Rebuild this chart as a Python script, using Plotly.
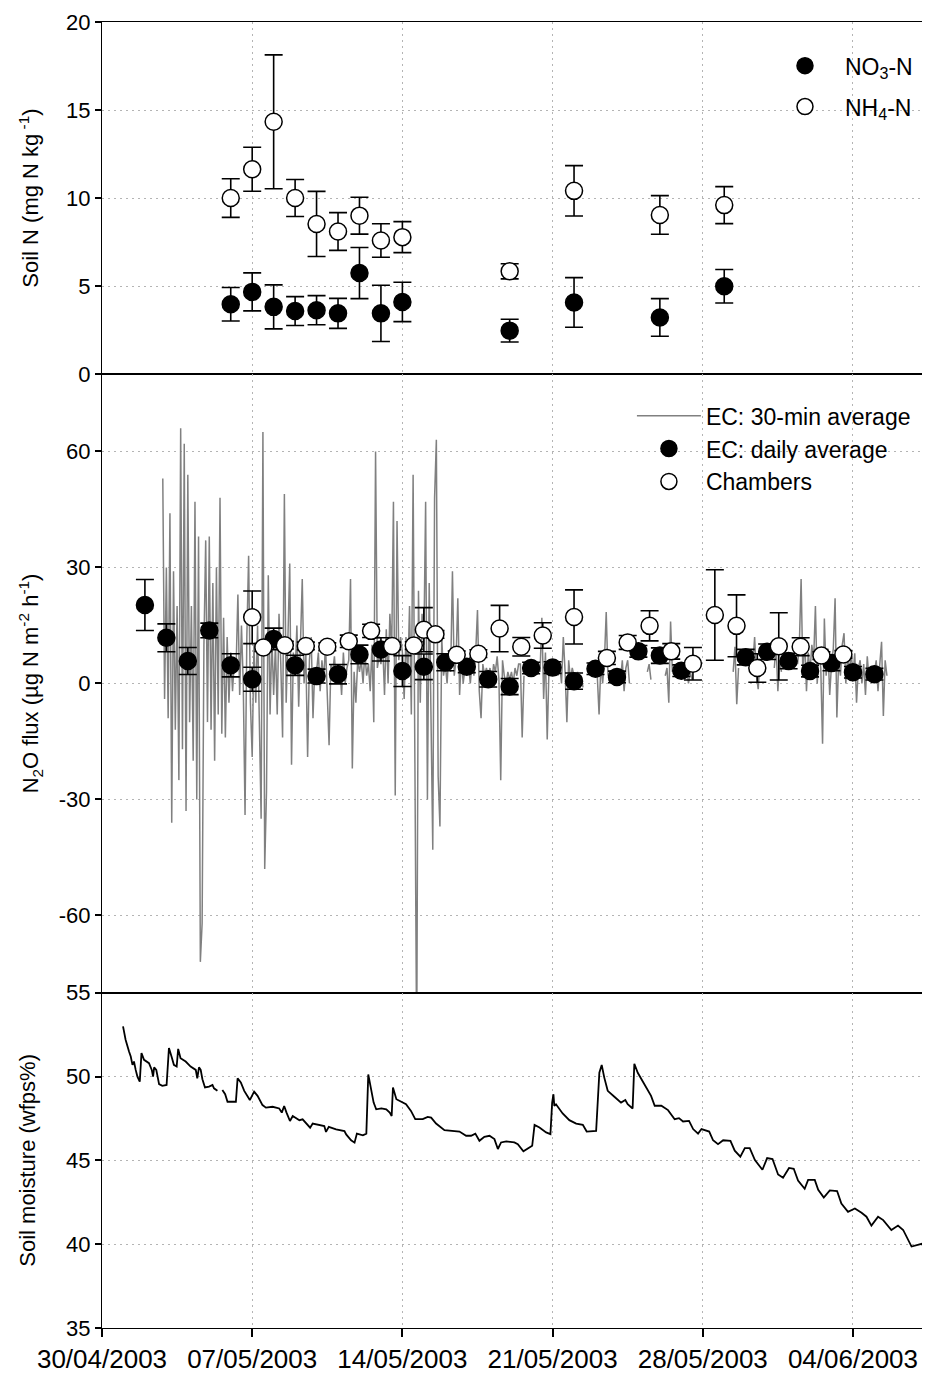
import pandas as pd
import plotly.graph_objects as go
from plotly.subplots import make_subplots

BASE = pd.Timestamp("2003-04-30")

# ---------------- Panel 1: soil mineral N ----------------
soiln_dates = ["2003-05-06", "2003-05-07", "2003-05-08", "2003-05-09", "2003-05-10",
               "2003-05-11", "2003-05-12", "2003-05-13", "2003-05-14", "2003-05-19",
               "2003-05-22", "2003-05-26", "2003-05-29"]
no3_mean = [3.97, 4.67, 3.82, 3.58, 3.63, 3.45, 5.74, 3.45, 4.10, 2.47, 4.07, 3.22, 4.99]
no3_err = [0.95, 1.08, 1.25, 0.82, 0.83, 0.85, 1.45, 1.60, 1.12, 0.65, 1.41, 1.07, 0.95]
nh4_mean = [10.0, 11.64, 14.33, 10.0, 8.53, 8.10, 9.0, 7.59, 7.78, 5.84, 10.41, 9.04, 9.60]
nh4_err = [1.10, 1.25, 3.80, 1.05, 1.85, 1.07, 1.05, 0.95, 0.88, 0.43, 1.43, 1.10, 1.05]

# ---------------- Panel 2: N2O flux ----------------
ec_daily_dates = ["2003-05-02", "2003-05-03", "2003-05-04", "2003-05-05", "2003-05-06",
                  "2003-05-07", "2003-05-08", "2003-05-09", "2003-05-10", "2003-05-11",
                  "2003-05-12", "2003-05-13", "2003-05-14", "2003-05-15", "2003-05-16",
                  "2003-05-17", "2003-05-18", "2003-05-19", "2003-05-20", "2003-05-21",
                  "2003-05-22", "2003-05-23", "2003-05-24", "2003-05-25", "2003-05-26",
                  "2003-05-27", "2003-05-30", "2003-05-31", "2003-06-01", "2003-06-02",
                  "2003-06-03", "2003-06-04", "2003-06-05"]
ec_daily_mean = [20.3, 11.8, 5.8, 13.7, 4.7, 1.1, 11.5, 4.7, 1.9, 2.4, 7.5, 8.8, 3.2, 4.3,
                 5.5, 4.3, 1.1, -0.8, 4.0, 4.1, 0.6, 3.8, 1.7, 8.3, 7.2, 3.3, 6.8, 8.2,
                 5.8, 3.2, 5.3, 2.9, 2.4]
ec_daily_err = [6.6, 3.6, 3.5, 1.9, 3.0, 3.1, 2.8, 2.6, 1.8, 2.5, 2.4, 3.0, 4.0, 3.3,
                2.2, 1.5, 2.0, 2.1, 1.5, 1.5, 2.1, 1.5, 1.5, 1.5, 2.0, 1.5, 2.0, 2.0,
                2.0, 1.5, 2.0, 1.5, 1.5]

chamber_dates = ["2003-05-07 00:00", "2003-05-07 12:30", "2003-05-08 12:30", "2003-05-09 12:00",
                 "2003-05-10 12:00", "2003-05-11 12:00", "2003-05-12 13:00", "2003-05-13 12:30",
                 "2003-05-14 12:45", "2003-05-15 00:00", "2003-05-15 13:00", "2003-05-16 12:45",
                 "2003-05-17 13:00", "2003-05-18 12:45", "2003-05-19 13:00", "2003-05-20 13:00",
                 "2003-05-22 00:00", "2003-05-23 12:45", "2003-05-24 12:00", "2003-05-25 12:30",
                 "2003-05-26 12:45", "2003-05-27 13:00", "2003-05-28 13:30", "2003-05-29 13:45",
                 "2003-05-30 13:00", "2003-05-31 13:00", "2003-06-01 13:30", "2003-06-02 12:45",
                 "2003-06-03 13:15"]
chamber_mean = [17.1, 9.3, 9.9, 9.7, 9.5, 10.9, 13.6, 9.7, 9.8, 13.9, 12.7, 7.4, 7.7, 14.2,
                9.5, 12.4, 17.2, 6.6, 10.6, 14.9, 8.3, 5.1, 17.7, 14.9, 4.0, 9.6, 9.5, 7.2, 7.5]
chamber_err = [6.8, 1.0, 1.0, 1.0, 1.0, 1.6, 1.7, 1.0, 1.0, 5.7, 1.0, 1.0, 1.0, 6.0,
               2.4, 3.3, 7.0, 1.7, 1.8, 3.9, 2.0, 4.2, 11.7, 8.0, 3.7, 8.7, 2.3, 1.0, 1.0]

# EC flux series, read every 2 h from 02/05/2003 00:00 (None = no data)
ec30_start = "2003-05-02 00:00"
ec30_flux = [
    None, None, None, None, None, None, None, None, None, None, 53, -4,      # 02/05
    30, -9, 44, -36, 29, -12, 20, -25, 66, -17, 62, -33,                     # 03/05
    54, -10, 20, -20, 47, -30, 38, -72, -62, 10, 37, -10,                    # 04/05
    38, -12, 26, -20, 30, -8, 48, -13, 17, -14, 12, -5,                      # 05/05
    8, -2, 6, 4, 23, -3, 15, 0, -34, 12, 33, -5,                             # 06/05
    -19, 10, -5, 15, -10, -35, 65, -48, -28, 28, -8, 12,                     # 07/05
    -3, 10, -8, 18, 5, -14, 49, -5, 12, 31, -21, 8,                          # 08/05
    2, 15, -6, 10, 27, 0, 8, -19, 6, 12, -9, 4,                              # 09/05
    3, 8, -2, 6, 1, 10, -4, -16, 5, 3, 7, 0,                                 # 10/05
    2, 5, -3, 8, 0, 4, 6, 27, -22, 3, -5, 6,                                 # 11/05
    3, 6, 0, 8, 2, 5, -2, 10, -10, 60, 4, 7,                                 # 12/05
    5, 10, -3, 14, 0, 18, 8, 47, -29, 42, 6, 12,                             # 13/05
    8, -4, 12, 2, 20, -8, 54, -26, -95, 24, -5, 18,                          # 14/05
    10, 47, -30, 26, -8, -43, 48, 63, -24, -37, 12, 2,                       # 15/05
    5, 0, 8, 3, 29, 2, 6, 22, -3, 7, 0, 4,                                   # 16/05
    3, 5, 0, 6, 2, 8, 19, -2, -9, 5, 2, 4,                                   # 17/05
    2, 4, 0, 5, 3, 7, 1, -25, 6, 2, 0, 3,                                    # 18/05
    1, 3, 0, 4, 2, 5, 5, -14, 2, None, None, None,                           # 19/05
    None, None, None, None, None, 3, 17, -4, 8, -14.5, 4, None,              # 20/05
    None, None, None, 2, 5, 0, 12, 3, -10, 6, 1, 4,                          # 21/05
    2, 0, 3, 1, 2, -1, None, None, None, None, None, None,                   # 22/05
    None, 2, -8, 5, 0, 6, 18.5, 2, None, None, None, None,                   # 23/05
    None, None, 1, 6, -2, 4, 6, 0, None, None, None, None,                   # 24/05
    None, None, None, None, None, 3, 5, 1, None, None, None, None,           # 25/05
    None, None, None, 2, 4, -5, 16, 3, None, None, None, None,               # 26/05
    None, None, 2, 4, 0, 3, 1, None, None, None, None, None,                 # 27/05
    None, None, None, None, None, None, None, None, None, None, None, None,  # 28/05
    None, None, None, None, None, 3, 9.5, -5.4, 4, None, None, None,         # 29/05
    None, None, None, None, 5, 12, 2, -1.5, 6, None, None, None,             # 30/05
    None, None, None, None, 4, 10, -2, 6, 3, None, None, None,               # 31/05
    None, None, None, None, None, 5, 10, 27, 2, 12, -2, 8,                   # 01/06
    3, 10, 6, 20, 0, 8, 4, -15.6, 16.8, 2, 9, -3,                            # 02/06
    5, 9, 22, -8.8, 6, 2, 10, 13, 0, 7, 3, 8,                                # 03/06
    2, 7.8, -5, 4, 6, 0, 5, -3, 7, 1, 4, 2,                                  # 04/06
    3, 6, -2, 5, 10.8, -8.4, 6, 2,                                           # 05/06
]

# ---------------- Panel 3: soil moisture ----------------
# time in days after 30/04/2003 00:00
sm_day = [0.98, 1.10, 1.26, 1.34, 1.42, 1.49, 1.57, 1.65, 1.76, 1.84, 1.96, 2.19, 2.32, 2.38,
          2.43, 2.53, 2.66, 2.81, 3.01, 3.12, 3.24, 3.35, 3.48, 3.55, 3.66, 3.90, 4.13, 4.37,
          4.44, 4.52, 4.60, 4.68, 4.80, 4.99, 5.15, 5.22, 5.38, 5.50, 5.61, 5.74, 5.85, 6.24,
          6.32, 6.47, 6.63, 6.78, 6.89, 7.09, 7.25, 7.48, 7.64, 7.95, 8.26, 8.38, 8.49, 8.60,
          8.76, 8.89, 9.20, 9.35, 9.51, 9.70, 9.82, 10.13, 10.36, 10.44, 10.57, 10.91, 11.30,
          11.38, 11.61, 11.77, 11.88, 12.16, 12.32, 12.41, 12.55, 12.66, 12.78, 13.02, 13.25,
          13.41, 13.50, 13.56, 13.72, 13.95, 14.17, 14.40, 14.60, 14.95, 15.18, 15.34, 15.57,
          15.96, 16.35, 16.66, 16.97, 17.20, 17.40, 17.59, 17.82, 18.06, 18.29, 18.45, 18.60,
          18.84, 19.22, 19.38, 19.64, 19.85, 20.05, 20.16, 20.39, 20.70, 20.90, 20.98, 21.04,
          21.08, 21.16, 21.47, 21.78, 22.10, 22.41, 22.59, 23.03, 23.18, 23.29, 23.41, 23.57,
          23.88, 24.19, 24.39, 24.50, 24.73, 24.81, 24.97, 25.20, 25.43, 25.59, 25.76, 26.07,
          26.38, 26.69, 26.89, 27.08, 27.36, 27.55, 27.78, 27.94, 28.30, 28.48, 28.71, 28.95,
          29.29, 29.49, 29.75, 29.96, 30.19, 30.43, 30.78, 31.00, 31.25, 31.51, 31.74, 32.02,
          32.24, 32.44, 32.75, 32.91, 33.22, 33.38, 33.64, 33.92, 34.26, 34.46, 34.77, 35.09,
          35.40, 35.63, 35.86, 36.17, 36.41, 36.79, 37.10, 37.34, 37.73, 37.96, 38.20, 38.43,
          38.58]
sm_val = [53.0, 52.2, 51.5, 51.2, 50.7, 50.9, 50.4, 50.0, 49.7, 51.4, 51.0, 50.8, 50.4, 50.0,
          50.55, 50.4, 49.55, 49.45, 49.5, 51.7, 51.2, 50.7, 50.6, 51.65, 51.1, 50.9, 50.6, 50.4,
          49.9, 50.55, 50.4, 49.84, 49.35, 49.4, 49.5, 49.3, 49.15, None, 49.2, 48.95, 48.5, 48.5,
          49.9, 49.65, 49.15, 48.85, 48.6, 49.1, 48.85, 48.3, 48.15, 48.2, 48.1, 47.85, 48.25, 47.85,
          47.35, 47.65, 47.4, 47.45, 47.2, 46.95, 47.2, 47.1, 47.05, 46.7, 47.0, 46.85, 46.75,
          46.55, 46.2, 46.06, 46.6, 46.5, 46.6, 50.13, 49.15, 48.45, 48.05, 48.1, 48.05,
          47.85, 47.65, 49.35, 48.65, 48.5, 48.35, 47.95, 47.46, 47.46, 47.6, 47.55, 47.2,
          46.8, 46.76, 46.72, 46.47, 46.47, 46.6, 46.17, 46.41, 46.47, 46.27, 45.68, 46.07,
          46.13, 46.07, 45.97, 45.54, 45.73, 45.87, 47.12, 46.96, 46.67, 46.57, 48.45, 48.95,
          48.25, 48.35, 47.8, 47.4, 47.2, 47.12, 46.72, 46.76, 50.23, 50.69, 49.94, 49.15,
          48.8, 48.45, 48.6, 48.35, 48.1, 50.77, 50.23, 49.74, 49.25, 48.85, 48.26, 48.26,
          48.0, 47.46, 47.52, 47.32, 47.36, 46.87, 46.6, 46.87, 46.72, 46.2, 45.97, 46.2,
          46.17, 45.58, 45.22, 45.73, 45.73, 45.02, 44.44, 45.14, 45.08, 44.16, 43.96, 44.55,
          44.5, 43.8, 43.31, 43.84, 43.84, 43.25, 42.78, 43.21, 43.17, 42.43, 41.93, 42.13,
          41.87, 41.64, 41.11, 41.64, 41.44, 40.85, 41.11, 40.85, 39.86, 39.96, 40.02, 39.66,
          39.47]

# ---------------- axis tick settings ----------------
x_range = ["2003-04-30 00:00", "2003-06-07 14:10"]
soiln_ticks = [0, 5, 10, 15, 20]
flux_ticks = [-60, -30, 0, 30, 60]
flux_ticktext = ["-60", "-30", "0", "30", "60"]
sm_ticks = [35, 40, 45, 50, 55]

FONT = "Liberation Sans, Arial, Helvetica, sans-serif"

ec30_time = pd.date_range(ec30_start, periods=len(ec30_flux), freq="2h")
sm_time = [BASE + pd.Timedelta(days=d) for d in sm_day]

fig = make_subplots(rows=3, cols=1, shared_xaxes=True, vertical_spacing=0,
                    row_heights=[354, 622, 337])

err_style = dict(type="data", thickness=1.6, width=9, color="black")
circ = dict(size=17, line=dict(color="black", width=1.5))

# Panel 1
fig.add_trace(go.Scatter(x=soiln_dates, y=no3_mean, mode="markers", name="NO<sub>3</sub>-N",
                         marker=dict(color="black", **circ), legendgroup="no3",
                         error_y=dict(array=no3_err, **err_style), legend="legend"),
              row=1, col=1)
fig.add_trace(go.Scatter(x=soiln_dates, y=nh4_mean, mode="markers", name="NH<sub>4</sub>-N",
                         marker=dict(color="white", **circ), legendgroup="nh4",
                         error_y=dict(array=nh4_err, **err_style), legend="legend"),
              row=1, col=1)

# Panel 2
fig.add_trace(go.Scatter(x=ec30_time, y=ec30_flux, mode="lines", name="EC: 30-min average",
                         line=dict(color="#808080", width=1.5), connectgaps=False,
                         legend="legend2"), row=2, col=1)
fig.add_trace(go.Scatter(x=ec_daily_dates, y=ec_daily_mean, mode="markers",
                         name="EC: daily average", marker=dict(color="black", **circ),
                         error_y=dict(array=ec_daily_err, **err_style), legend="legend2"),
              row=2, col=1)
fig.add_trace(go.Scatter(x=chamber_dates, y=chamber_mean, mode="markers", name="Chambers",
                         marker=dict(color="white", **circ),
                         error_y=dict(array=chamber_err, **err_style), legend="legend2"),
              row=2, col=1)

# Panel 3
fig.add_trace(go.Scatter(x=sm_time, y=sm_val, mode="lines", showlegend=False,
                         line=dict(color="black", width=1.8), connectgaps=False),
              row=3, col=1)

grid = dict(showgrid=True, gridcolor="#b4b4b4", gridwidth=1, griddash="2px,4px",
            zeroline=False, showline=True, linecolor="black", linewidth=1.3)

for r in (1, 2, 3):
    fig.update_xaxes(type="date", range=x_range, dtick=7 * 86400000,
                     tick0="2003-04-30", mirror=True, row=r, col=1, **grid)
fig.update_xaxes(ticks="outside", ticklen=8, tickwidth=1.5, tickcolor="black",
                 tickformat="%d/%m/%Y", tickfont=dict(size=26, color="black", family=FONT),
                 row=3, col=1)
fig.update_xaxes(ticks="", row=1, col=1)
fig.update_xaxes(ticks="", row=2, col=1)

ycommon = dict(ticks="outside", ticklen=6, tickwidth=1.5, tickcolor="black",
               tickfont=dict(size=22, color="black", family=FONT), **grid)
title_font = dict(size=22, family=FONT, color="black")
fig.update_yaxes(range=[0, 20], tickvals=soiln_ticks,
                 title=dict(text="Soil N (mg N kg<sup> -1</sup>)", standoff=21, font=title_font),
                 row=1, col=1, **ycommon)
fig.update_yaxes(range=[-80, 80], tickvals=flux_ticks, ticktext=flux_ticktext,
                 title=dict(text="N<sub>2</sub>O flux (µg N m<sup>-2</sup> h<sup>-1</sup>)",
                            standoff=13, font=title_font),
                 row=2, col=1, **ycommon)
fig.update_yaxes(range=[35, 55], tickvals=sm_ticks,
                 title=dict(text="Soil moisture (wfps%)", standoff=24, font=title_font),
                 row=3, col=1, **ycommon)

# page body has an 8 px margin: the figure is sized/placed to fill the 930x1382 window
fig.update_layout(
    width=922, height=1366,
    margin=dict(l=94, r=0, t=14, b=39),
    paper_bgcolor="white", plot_bgcolor="white",
    font=dict(family=FONT, color="black"),
    legend=dict(x=0.8007, y=0.983, xanchor="left", yanchor="top",
                bgcolor="rgba(0,0,0,0)", font=dict(size=23, family=FONT, color="black"),
                itemsizing="trace", itemwidth=70, tracegroupgap=8),
    legend2=dict(x=0.640, y=0.715, xanchor="left", yanchor="top",
                 bgcolor="rgba(0,0,0,0)", font=dict(size=23, family=FONT, color="black"),
                 itemsizing="trace", itemwidth=64, tracegroupgap=0),
)

fig.write_html("out.html")
